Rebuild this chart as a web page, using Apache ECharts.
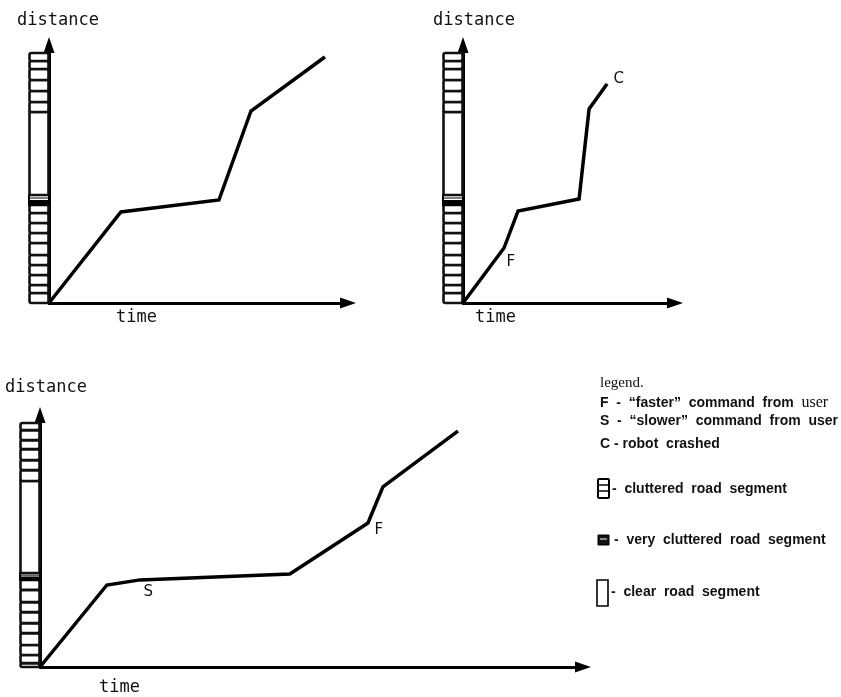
<!DOCTYPE html>
<html>
<head>
<meta charset="utf-8">
<script src="https://cdn.jsdelivr.net/npm/echarts@6/dist/echarts.min.js"></script>
<style>
html,body{margin:0;padding:0;background:#fff;}
#chart{width:841px;height:697px;}
</style>
</head>
<body>
<div id="chart"></div>
<script>
// ---- data ----
// road segments along distance: [from, to, kind]  kind 0 = cluttered, 1 = very cluttered, 2 = clear
const roadAB = [
  [0,4,0],[4,7.2,0],[7.2,11.2,0],[11.2,15.2,0],[15.2,19.2,0],[19.2,24,0],[24,28,0],[28,32,0],[32,36,0],[36,39.2,0],
  [39.2,43.2,1],
  [43.2,76.4,2],
  [76.4,80.4,0],[80.4,84.8,0],[84.8,89.2,0],[89.2,93.6,0],[93.6,96.8,0],[96.8,100,0]
];
const roadC = [
  [0,1.6,0],[1.6,4.9,0],[4.9,9,0],[9,13.9,0],[13.9,18,0],[18,22.5,0],[22.5,26.6,0],[26.6,31.6,0],[31.6,35.7,0],
  [35.7,38.5,1],
  [38.5,76.2,2],
  [76.2,80.7,0],[80.7,84.8,0],[84.8,89.3,0],[89.3,93,0],[93,97.1,0],[97.1,100,0]
];
// distance vs time runs  [time, distance]
const runA = [[0,0],[24.7,36.4],[58.4,41.2],[69.4,76.8],[94.8,98.4]];
const runB = [[0,0],[20.1,22],[27,36.8],[56.9,41.6],[61.8,77.6],[70.6,87.6]];
const runC = [[0,0],[12.5,33.6],[18.7,35.7],[46.7,38.1],[61.3,59],[64.1,73.8],[78.1,96.7]];
// event marks on each run (same index as the points)
const marksA = ['', '', '', '', ''];
const marksB = ['', 'F', '', '', '', 'C'];
const marksC = ['', '', 'S', '', 'F', '', ''];
const axisNames = {y: 'distance', x: 'time'};
const legendTitle = 'legend.';
const legendRows = [
  ['F', '“faster”  command  from  ', 'user'],
  ['S', '“slower”  command  from  user', ''],
  ['C', 'robot  crashed', '']
];
const roadLegend = ['cluttered  road  segment', 'very  cluttered  road  segment', 'clear  road  segment'];

// ---- styling / layout ----
const labelPos = {
  F: {distance: 2, offset: [0, 14]},
  C: {distance: 6, offset: [0, -5]},
  S: {distance: 3, offset: [0, 12]},
  F3: {distance: 6, offset: [0, 7]}
};
const panels = [
  {main: {left: 49, top: 53, width: 291, height: 250}, strip: {left: 29, top: 53, width: 20, height: 250}, road: roadAB, run: runA, marks: marksA},
  {main: {left: 463, top: 53, width: 204, height: 250}, strip: {left: 443, top: 53, width: 20, height: 250}, road: roadAB, run: runB, marks: marksB},
  {main: {left: 40, top: 423, width: 535, height: 244}, strip: {left: 20, top: 423, width: 20, height: 244}, road: roadC, run: runC, marks: marksC, third: true}
];

function renderRoad(params, api) {
  const from = api.value(0), to = api.value(1), kind = api.value(2);
  const p0 = api.coord([0, to]);
  const p1 = api.coord([1, from]);
  const x = p0[0], y = p0[1], w = p1[0] - p0[0], h = p1[1] - p0[1];
  if (kind === 1) {
    return {type: 'group', children: [
      {type: 'rect', shape: {x: x, y: y, width: w, height: h}, style: {fill: '#fff', stroke: '#000', lineWidth: 2}},
      {type: 'line', shape: {x1: x, y1: y + h * 0.3, x2: x + w, y2: y + h * 0.3}, style: {stroke: '#000', lineWidth: 1}},
      {type: 'rect', shape: {x: x, y: y + h * 0.5, width: w, height: h * 0.5}, style: {fill: '#000'}}
    ]};
  }
  return {type: 'rect', shape: {x: x + 0.5, y: y, width: w - 1, height: h, r: kind === 0 ? 2 : 0},
          style: {fill: '#fff', stroke: '#111', lineWidth: 2.6}};
}

const grids = [], xAxes = [], yAxes = [], series = [];
const axLine = {show: true, symbol: ['none', 'triangle'], symbolSize: [11, 16], symbolOffset: [0, 8],
                lineStyle: {color: '#000', width: 3}};
panels.forEach((p, i) => {
  const gMain = grids.length;
  grids.push(Object.assign({containLabel: false}, p.main));
  xAxes.push({gridIndex: gMain, type: 'value', min: 0, max: 100, axisLine: axLine, axisTick: {show: false},
              axisLabel: {show: false}, splitLine: {show: false}});
  yAxes.push({gridIndex: gMain, type: 'value', min: 0, max: 100, axisLine: axLine, axisTick: {show: false},
              axisLabel: {show: false}, splitLine: {show: false}});
  const gStrip = grids.length;
  grids.push(Object.assign({containLabel: false}, p.strip));
  xAxes.push({gridIndex: gStrip, type: 'value', min: 0, max: 1, show: false});
  yAxes.push({gridIndex: gStrip, type: 'value', min: 0, max: 100, show: false});
  series.push({type: 'custom', xAxisIndex: gStrip, yAxisIndex: gStrip, renderItem: renderRoad,
               data: p.road, encode: {y: [0, 1]}, z: 1, silent: true});
  series.push({
    type: 'line', xAxisIndex: gMain, yAxisIndex: gMain, z: 3, silent: true,
    symbol: 'circle', symbolSize: 1, showSymbol: true,
    itemStyle: {color: '#000'},
    lineStyle: {color: '#000', width: 3.5, join: 'miter'},
    data: p.run.map((v, k) => {
      const m = p.marks[k];
      if (!m) return {value: v};
      const lp = labelPos[(p.third && m === 'F') ? 'F3' : m];
      return {value: v, name: m, label: {show: true, position: 'right', distance: lp.distance, offset: lp.offset,
        formatter: '{b}', color: '#111', fontFamily: 'DejaVu Sans', fontSize: 15}};
    })
  });
});

const axisFont = '17px "DejaVu Sans Mono", monospace';
const legFont = 'bold 14px "Liberation Sans", Arial, sans-serif';
const graphic = [
  {type: 'text', left: 17, top: 12, style: {text: axisNames.y, font: axisFont, fill: '#111'}},
  {type: 'text', left: 433, top: 12, style: {text: axisNames.y, font: axisFont, fill: '#111'}},
  {type: 'text', left: 5, top: 379, style: {text: axisNames.y, font: axisFont, fill: '#111'}},
  {type: 'text', left: 116, top: 309, style: {text: axisNames.x, font: axisFont, fill: '#111'}},
  {type: 'text', left: 475, top: 309, style: {text: axisNames.x, font: axisFont, fill: '#111'}},
  {type: 'text', left: 99, top: 679, style: {text: axisNames.x, font: axisFont, fill: '#111'}},
  {type: 'text', left: 600, top: 376, style: {text: legendTitle, font: '15px "Liberation Serif", serif', fill: '#111'}},
  {type: 'text', left: 600, top: 395, style: {
    text: '{a|' + legendRows[0][0] + '  -  ' + legendRows[0][1] + '}{b|' + legendRows[0][2] + '}',
    rich: {a: {font: legFont, fill: '#111'}, b: {font: '16px "Liberation Serif", serif', fill: '#111'}}}},
  {type: 'text', left: 600, top: 414, style: {text: legendRows[1][0] + '  -  ' + legendRows[1][1], font: legFont, fill: '#111'}},
  {type: 'text', left: 600, top: 437, style: {text: legendRows[2][0] + ' - ' + legendRows[2][1], font: legFont, fill: '#111'}},
  // cluttered icon
  {type: 'rect', shape: {x: 598, y: 479, width: 11, height: 19, r: 1}, style: {fill: '#fff', stroke: '#000', lineWidth: 2}},
  {type: 'line', shape: {x1: 598, y1: 485, x2: 609, y2: 485}, style: {stroke: '#000', lineWidth: 1.5}},
  {type: 'line', shape: {x1: 598, y1: 491, x2: 609, y2: 491}, style: {stroke: '#000', lineWidth: 1.5}},
  {type: 'text', left: 612, top: 482, style: {text: '-  ' + roadLegend[0], font: legFont, fill: '#111'}},
  // very cluttered icon
  {type: 'rect', shape: {x: 598, y: 535, width: 11, height: 10}, style: {fill: '#111', stroke: '#000', lineWidth: 1}},
  {type: 'line', shape: {x1: 600, y1: 539, x2: 607, y2: 539}, style: {stroke: '#fff', lineWidth: 1}},
  {type: 'text', left: 614, top: 533, style: {text: '-  ' + roadLegend[1], font: legFont, fill: '#111'}},
  // clear icon
  {type: 'rect', shape: {x: 597, y: 580, width: 11, height: 26}, style: {fill: '#fff', stroke: '#000', lineWidth: 1.6}},
  {type: 'text', left: 611, top: 585, style: {text: '-  ' + roadLegend[2], font: legFont, fill: '#111'}}
];

const chart = echarts.init(document.getElementById('chart'), null, {renderer: 'canvas'});
chart.setOption({
  backgroundColor: '#fff',
  animation: false,
  grid: grids,
  xAxis: xAxes,
  yAxis: yAxes,
  series: series,
  graphic: graphic
});
</script>
</body>
</html>
